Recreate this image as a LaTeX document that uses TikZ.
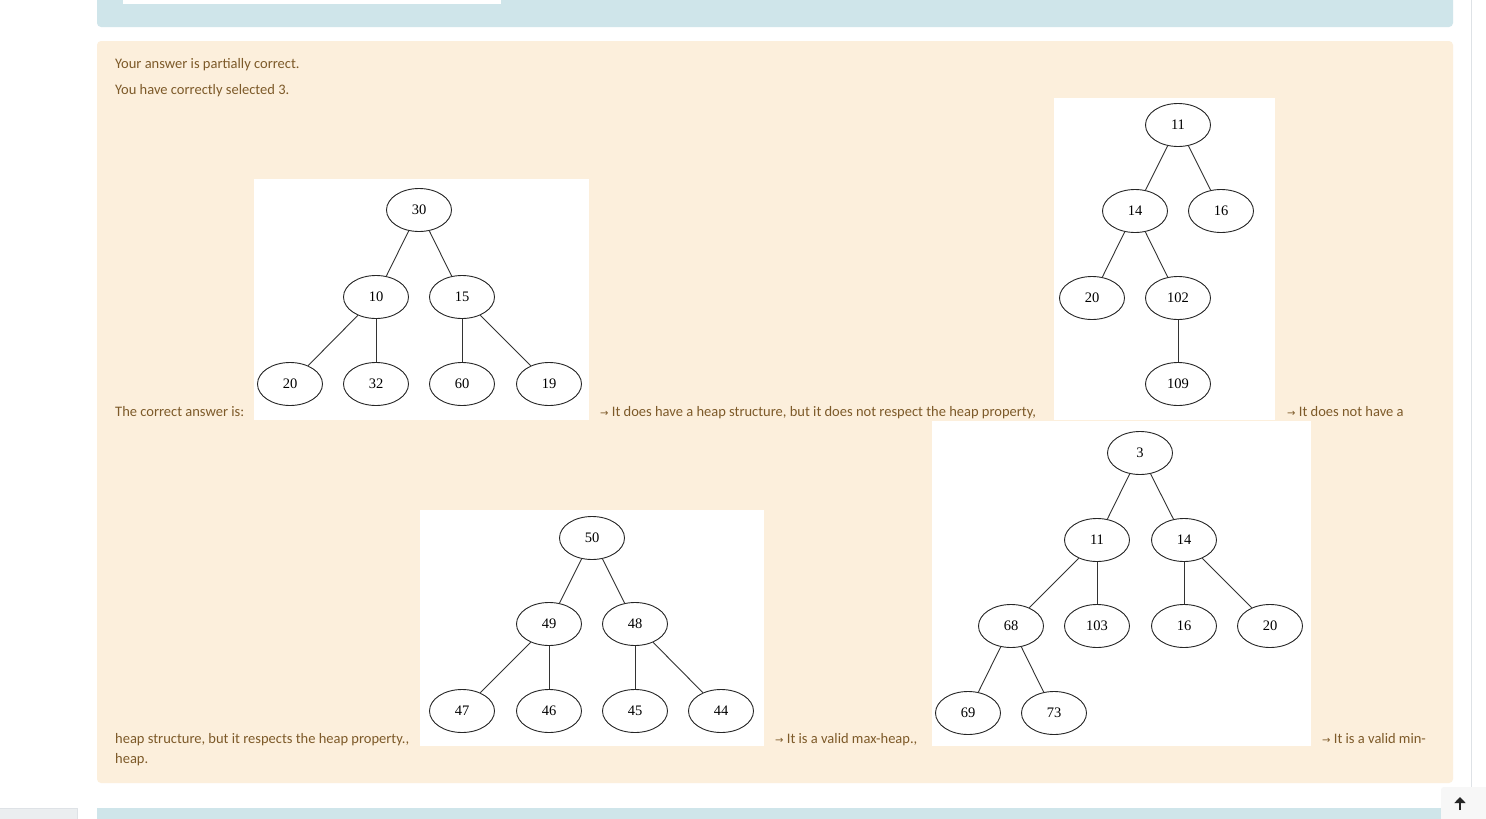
\documentclass[tikz,border=0pt]{standalone}
\usepackage{fontspec}
\setmainfont{Carlito}
\newfontfamily\treefont{Liberation Serif}
\newfontfamily\arrowfont{DejaVu Sans}
\usetikzlibrary{shapes.geometric,arrows.meta}
\definecolor{panelblue}{HTML}{CFE5EA}
\definecolor{panelcream}{HTML}{FCEFDC}
\definecolor{feedbacktext}{HTML}{7D5A29}
\definecolor{rulegray}{HTML}{DEE2E6}
\tikzset{
  heapnode/.style={draw=black!85, line width=0.9pt, ellipse, minimum width=65pt,
    minimum height=43pt, inner sep=0pt, font=\treefont\fontsize{14.5}{14.5}\selectfont},
  heapedge/.style={draw=black!80, line width=0.9pt},
  feedback/.style={anchor=base west, inner sep=0pt, text=feedbacktext,
    font=\fontsize{14.5}{16}\selectfont}
}
\newcommand{\ra}{{\arrowfont\fontsize{10}{10}\selectfont →}}
\begin{document}
\begin{tikzpicture}[x=1pt,y=-1pt]
  \useasboundingbox (0,0) rectangle (1486,819);
  \fill[white] (0,0) rectangle (1486,819);
  % panels of the page
  \fill[panelblue,rounded corners=4pt] (97,-10) rectangle (1453,27);
  \fill[white] (123,-10) rectangle (501,4);
  \fill[panelcream,rounded corners=4pt] (97,41) rectangle (1453,783);
  \fill[panelblue] (97,808) rectangle (1453,830);
  \draw[rulegray] (1471,0) -- (1471,790);
  \filldraw[fill=rulegray!60,draw=rulegray] (-2,808) rectangle (77,822);
  \fill[black!3,rounded corners=3pt] (1441,787) rectangle (1490,825);
  \coordinate (upfoot) at (1460,810);
  \coordinate (uphead) at (1460,797);
  \draw[black!85,line width=2.6pt,-{Triangle[width=11pt,length=6pt]}] (upfoot) -- (uphead);
  % texts
  \node[feedback] (t1) at (115,68) {Your answer is partially correct.};
  \node[feedback] (t2) at (115,94) {You have correctly selected 3.};
  \node[feedback] (t3) at (115,416) {The correct answer is:};
  \node[feedback] (t4) at (600,416) {\ra{} It does have a heap structure, but it does not respect the heap property,};
  \node[feedback] (t5) at (1287,416) {\ra{} It does not have a};
  \node[feedback] (t6) at (115,743) {heap structure, but it respects the heap property.,};
  \node[feedback] (t7) at (775,743) {\ra{} It is a valid max-heap.,};
  \node[feedback] (t8) at (1322,743) {\ra{} It is a valid min-};
  \node[feedback] (t9) at (115,763) {heap.};
  % white frames of the trees
  \fill[white] (254,179) rectangle (589,420);
  \fill[white] (1054,98) rectangle (1275,420);
  \fill[white] (420,510) rectangle (764,746);
  \fill[white] (932,421) rectangle (1311,746);
  % tree a
  \node[heapnode] (a30) at (419,210) {30};
  \node[heapnode] (a10) at (376,297) {10};
  \node[heapnode] (a15) at (462,297) {15};
  \node[heapnode] (a20) at (290,384) {20};
  \node[heapnode] (a32) at (376,384) {32};
  \node[heapnode] (a60) at (462,384) {60};
  \node[heapnode] (a19) at (549,384) {19};
  \draw[heapedge] (a30) -- (a10);
  \draw[heapedge] (a30) -- (a15);
  \draw[heapedge] (a10) -- (a20);
  \draw[heapedge] (a10) -- (a32);
  \draw[heapedge] (a15) -- (a60);
  \draw[heapedge] (a15) -- (a19);
  % tree b
  \node[heapnode] (b11) at (1178,125) {11};
  \node[heapnode] (b14) at (1135,211) {14};
  \node[heapnode] (b16) at (1221,211) {16};
  \node[heapnode] (b20) at (1092,298) {20};
  \node[heapnode] (b102) at (1178,298) {102};
  \node[heapnode] (b109) at (1178,384) {109};
  \draw[heapedge] (b11) -- (b14);
  \draw[heapedge] (b11) -- (b16);
  \draw[heapedge] (b14) -- (b20);
  \draw[heapedge] (b14) -- (b102);
  \draw[heapedge] (b102) -- (b109);
  % tree c
  \node[heapnode] (c50) at (592,538) {50};
  \node[heapnode] (c49) at (549,624) {49};
  \node[heapnode] (c48) at (635,624) {48};
  \node[heapnode] (c47) at (462,711) {47};
  \node[heapnode] (c46) at (549,711) {46};
  \node[heapnode] (c45) at (635,711) {45};
  \node[heapnode] (c44) at (721,711) {44};
  \draw[heapedge] (c50) -- (c49);
  \draw[heapedge] (c50) -- (c48);
  \draw[heapedge] (c49) -- (c47);
  \draw[heapedge] (c49) -- (c46);
  \draw[heapedge] (c48) -- (c45);
  \draw[heapedge] (c48) -- (c44);
  % tree d
  \node[heapnode] (d3) at (1140,453) {3};
  \node[heapnode] (d11) at (1097,540) {11};
  \node[heapnode] (d14) at (1184,540) {14};
  \node[heapnode] (d68) at (1011,626) {68};
  \node[heapnode] (d103) at (1097,626) {103};
  \node[heapnode] (d16) at (1184,626) {16};
  \node[heapnode] (d20) at (1270,626) {20};
  \node[heapnode] (d69) at (968,713) {69};
  \node[heapnode] (d73) at (1054,713) {73};
  \draw[heapedge] (d3) -- (d11);
  \draw[heapedge] (d3) -- (d14);
  \draw[heapedge] (d11) -- (d68);
  \draw[heapedge] (d11) -- (d103);
  \draw[heapedge] (d14) -- (d16);
  \draw[heapedge] (d14) -- (d20);
  \draw[heapedge] (d68) -- (d69);
  \draw[heapedge] (d68) -- (d73);
\end{tikzpicture}
\end{document}
